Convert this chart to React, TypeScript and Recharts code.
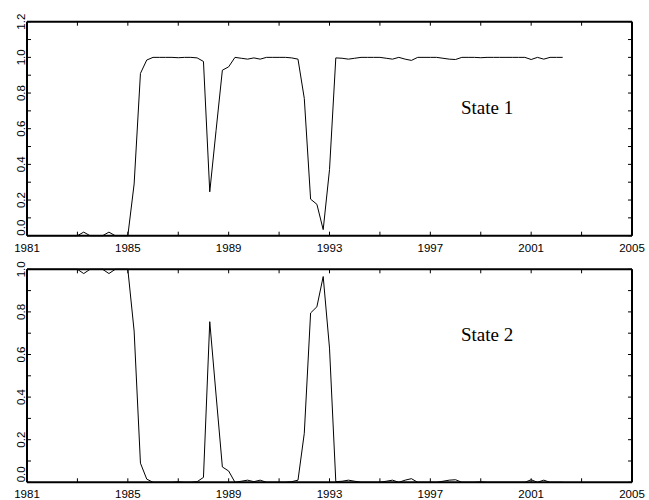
import React from "react";
import { LineChart, Line, XAxis, YAxis } from "recharts";

// quarterly smoothed probabilities, 1981Q1 .. 2002Q2
const state1 = [
  0, 0, 0, 0, 0, 0, 0, 0, 0, 0.02, 0, 0, 0, 0.02, 0, 0,
  0, 0.29, 0.91, 0.985, 1, 1, 1, 1, 0.998, 1, 1, 0.997, 0.977, 0.246, 0.59, 0.928,
  0.947, 1, 0.995, 0.99, 0.997, 0.99, 1, 1, 1, 1, 0.997, 0.99, 0.77, 0.205, 0.176, 0.034,
  0.37, 0.997, 0.995, 0.99, 0.995, 1, 1, 1, 1, 0.995, 0.99, 1, 0.99, 0.983, 1, 1,
  1, 1, 0.995, 0.99, 0.988, 1, 1, 1, 0.998, 1, 1, 1, 1, 1, 1, 1,
  0.988, 1, 0.99, 1, 1, 1,
];

const state2 = [
  1, 1, 1, 1, 1, 1, 1, 1, 1, 0.98, 1, 1, 1, 0.98, 1, 1,
  1, 0.71, 0.09, 0.015, 0, 0, 0, 0, 0.002, 0, 0, 0.003, 0.023, 0.754, 0.41, 0.072,
  0.053, 0, 0.005, 0.01, 0.003, 0.01, 0, 0, 0, 0, 0.003, 0.01, 0.23, 0.795, 0.824, 0.966,
  0.63, 0.003, 0.005, 0.01, 0.005, 0, 0, 0, 0, 0.005, 0.01, 0, 0.01, 0.017, 0, 0,
  0, 0, 0.005, 0.01, 0.012, 0, 0, 0, 0.002, 0, 0, 0, 0, 0, 0, 0,
  0.012, 0, 0.01, 0, 0, 0,
];

const START_YEAR = 1981;
const dates = state1.map((_, i) => START_YEAR + i / 4);

const data = dates.map((t, i) => ({ t, s1: state1[i], s2: state2[i] }));

const xTicks = [1981, 1983, 1985, 1987, 1989, 1991, 1993, 1995, 1997, 1999, 2001, 2003, 2005];
const xLabels = [1981, 1985, 1989, 1993, 1997, 2001, 2005];
const yTicksTop = [0, 0.1, 0.2, 0.3, 0.4, 0.5, 0.6, 0.7, 0.8, 0.9, 1.0, 1.1, 1.2];
const yTicksBottom = [0, 0.1, 0.2, 0.3, 0.4, 0.5, 0.6, 0.7, 0.8, 0.9, 1.0];

const font = "'Liberation Sans', Arial, sans-serif";
const TL = 4; // tick length, drawn inward

const BottomTick = (p: any) => {
  const v = p.payload.value;
  return (
    <g>
      <line x1={p.x} y1={p.y} x2={p.x} y2={p.y - TL} stroke="#000" />
      {xLabels.includes(v) && (
        <text x={p.x} y={p.y + 16} textAnchor="middle" fontSize={11.5} fontFamily={font} fill="#000">
          {v}
        </text>
      )}
    </g>
  );
};

const TopTick = (p: any) => (
  <line x1={p.x} y1={p.y} x2={p.x} y2={p.y + TL} stroke="#000" />
);

const LeftTick = (p: any) => {
  const v = p.payload.value;
  const major = Math.round(v * 10) % 2 === 0;
  const tx = p.x - 2;
  return (
    <g>
      <line x1={p.x} y1={p.y} x2={p.x + TL} y2={p.y} stroke="#000" />
      {major && (
        <text
          x={tx}
          y={p.y}
          transform={`rotate(-90, ${tx}, ${p.y})`}
          textAnchor={v === 0 ? "start" : "middle"}
          fontSize={11.5}
          fontFamily={font}
          fill="#000"
        >
          {v.toFixed(1)}
        </text>
      )}
    </g>
  );
};

const RightTick = (p: any) => (
  <line x1={p.x} y1={p.y} x2={p.x - TL} y2={p.y} stroke="#000" />
);

type PanelProps = {
  dataKey: string;
  yMax: number;
  yTicks: number[];
  height: number;
  top: number;
  bottom: number;
  label: string;
  labelY: number;
};

const frame = { stroke: "#000", strokeWidth: 2 };

const Panel = ({ dataKey, yMax, yTicks, height, top, bottom, label, labelY }: PanelProps) => (
  <LineChart
    width={649}
    height={height}
    data={data}
    margin={{ top: top - 1, right: 16, left: 0, bottom: bottom - 14 }}
  >
    <XAxis
      dataKey="t"
      type="number"
      domain={[1981, 2005]}
      ticks={xTicks}
      interval={0}
      height={14}
      tickSize={0}
      tickMargin={0}
      tickLine={false}
      tick={<BottomTick />}
      axisLine={frame}
    />
    <XAxis
      xAxisId="top"
      dataKey="t"
      orientation="top"
      type="number"
      domain={[1981, 2005]}
      ticks={xTicks}
      interval={0}
      height={1}
      tickSize={0}
      tickMargin={0}
      tickLine={false}
      tick={<TopTick />}
      axisLine={frame}
    />
    <YAxis
      type="number"
      domain={[0, yMax]}
      ticks={yTicks}
      interval={0}
      width={27}
      tickSize={0}
      tickMargin={0}
      tickLine={false}
      tick={<LeftTick />}
      axisLine={frame}
    />
    <YAxis
      yAxisId="right"
      orientation="right"
      type="number"
      domain={[0, yMax]}
      ticks={yTicks}
      interval={0}
      width={1}
      tickSize={0}
      tickMargin={0}
      tickLine={false}
      tick={<RightTick />}
      axisLine={frame}
    />
    <Line
      xAxisId="top"
      yAxisId="right"
      type="linear"
      dataKey={dataKey}
      stroke="none"
      dot={false}
      legendType="none"
      isAnimationActive={false}
    />
    <Line
      type="linear"
      dataKey={dataKey}
      stroke="#000"
      strokeWidth={1}
      dot={false}
      isAnimationActive={false}
    />
    <text x={461} y={labelY} fontSize={19} fontFamily="'Liberation Serif', 'Times New Roman', serif" fill="#000">
      {label}
    </text>
  </LineChart>
);

export default function App() {
  return (
    <div style={{ position: "absolute", left: 0, top: 0, width: 649, height: 500, background: "#fff" }}>
      <Panel dataKey="s1" yMax={1.2} yTicks={yTicksTop} height={256} top={21.7} bottom={20.3} label="State 1" labelY={114} />
      <Panel dataKey="s2" yMax={1} yTicks={yTicksBottom} height={244} top={13.3} bottom={17.7} label="State 2" labelY={84.7} />
    </div>
  );
}
